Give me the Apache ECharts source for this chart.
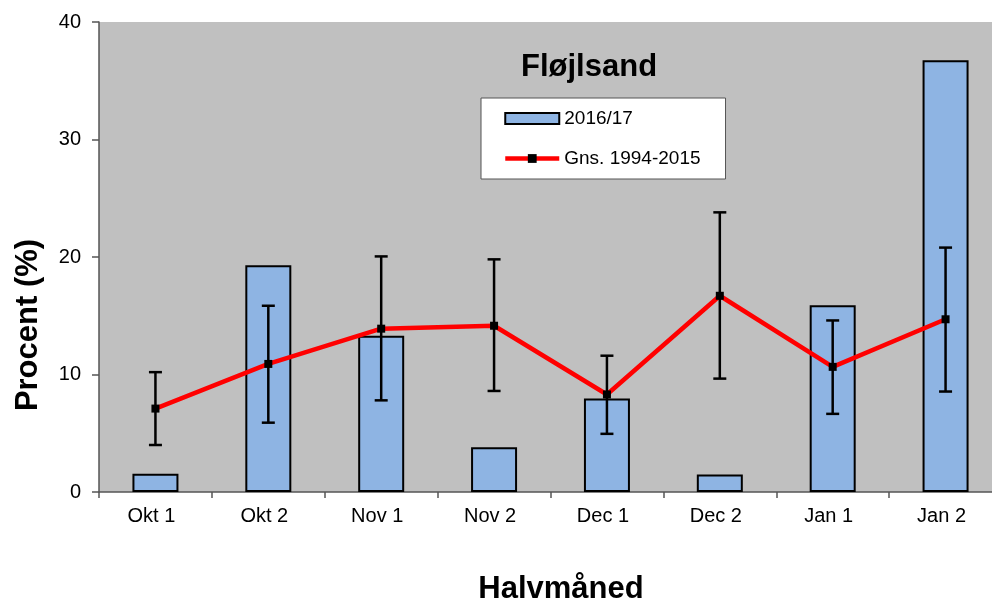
<!DOCTYPE html>
<html>
<head>
<meta charset="utf-8">
<script src="https://cdn.jsdelivr.net/npm/echarts@6/dist/echarts.min.js"></script>
<style>
  html, body { margin: 0; padding: 0; background: #fff; }
  #chart { width: 992px; height: 600px; }
</style>
</head>
<body>
<div id="chart"></div>
<script>
// halvmåneder
var categories = ['Okt 1', 'Okt 2', 'Nov 1', 'Nov 2', 'Dec 1', 'Dec 2', 'Jan 1', 'Jan 2'];
// 2016/17 procent
var season = [1.55, 19.3, 13.3, 3.8, 7.95, 1.5, 15.9, 36.75];
// gennemsnit 1994-2015
var average = [7.1, 10.9, 13.9, 14.15, 8.3, 16.7, 10.65, 14.7];
// fejllinjer (nedre / øvre)
var errLow = [4.0, 5.9, 7.8, 8.6, 4.95, 9.65, 6.65, 8.55];
var errHigh = [10.2, 15.85, 20.05, 19.8, 11.6, 23.8, 14.6, 20.8];

var FONT = 'Liberation Sans, Arial, sans-serif';

var chart = echarts.init(document.getElementById('chart'));

var errData = categories.map(function (c, i) {
    return [i, errLow[i], errHigh[i]];
});

function renderErrorBar(params, api) {
    var idx = api.value(0);
    var lo = api.coord([idx, api.value(1)]);
    var hi = api.coord([idx, api.value(2)]);
    var half = 6.5;
    var style = { stroke: '#000', lineWidth: 2.5 };
    return {
        type: 'group',
        children: [
            { type: 'line', shape: { x1: lo[0], y1: lo[1], x2: hi[0], y2: hi[1] }, style: style },
            { type: 'line', shape: { x1: hi[0] - half, y1: hi[1], x2: hi[0] + half, y2: hi[1] }, style: style },
            { type: 'line', shape: { x1: lo[0] - half, y1: lo[1], x2: lo[0] + half, y2: lo[1] }, style: style }
        ]
    };
}

var option = {
    backgroundColor: '#fff',
    animation: false,
    textStyle: { fontFamily: FONT },
    title: {
        text: 'Fløjlsand',
        left: 516,
        top: 47,
        textStyle: { fontFamily: FONT, fontSize: 31, fontWeight: 'bold', color: '#000' }
    },
    legend: {
        orient: 'vertical',
        left: 481,
        top: 98,
        padding: [11, 25, 11, 22],
        itemGap: 21,
        itemWidth: 54,
        itemHeight: 11,
        backgroundColor: '#fff',
        borderColor: '#555',
        borderWidth: 1,
        textStyle: { fontFamily: FONT, fontSize: 19, color: '#000' },
        data: [
            { name: '2016/17', icon: 'rect' },
            { name: 'Gns. 1994-2015', lineStyle: { width: 4.5, color: '#FF0000' } }
        ]
    },
    grid: {
        left: 99,
        top: 22,
        width: 903,
        bottom: 108,
        outerBoundsMode: 'none',
        containLabel: false,
        show: true,
        backgroundColor: '#C0C0C0',
        borderWidth: 0
    },
    xAxis: {
        type: 'category',
        data: categories,
        axisLine: { lineStyle: { color: '#555', width: 1.5 } },
        axisTick: { show: true, length: 6, lineStyle: { color: '#555', width: 1.5 } },
        axisLabel: { fontFamily: FONT, fontSize: 20, color: '#000', margin: 14, padding: [0, 8, 0, 0] },
        splitLine: { show: false }
    },
    yAxis: {
        type: 'value',
        min: 0,
        max: 40,
        interval: 10,
        axisLine: { show: true, lineStyle: { color: '#555', width: 1.5 } },
        axisTick: { show: true, length: 7, lineStyle: { color: '#555', width: 1.5 } },
        axisLabel: { fontFamily: FONT, fontSize: 20, color: '#000', margin: 18 },
        splitLine: { show: false }
    },
    graphic: [
        {
            type: 'text',
            x: 28,
            y: 325,
            rotation: Math.PI / 2,
            style: {
                text: 'Procent (%)',
                font: 'bold 31px ' + FONT,
                fill: '#000',
                align: 'center',
                verticalAlign: 'middle'
            }
        },
        {
            type: 'text',
            x: 561,
            y: 589,
            style: {
                text: 'Halvmåned',
                font: 'bold 31px ' + FONT,
                fill: '#000',
                align: 'center',
                verticalAlign: 'middle'
            }
        }
    ],
    series: [
        {
            name: '2016/17',
            type: 'bar',
            data: season,
            barWidth: 46,
            itemStyle: { color: '#8EB4E3', borderColor: '#000', borderWidth: 2 },
            z: 2
        },
        {
            name: 'Gns. 1994-2015',
            type: 'line',
            data: average,
            symbol: 'rect',
            symbolSize: 8,
            itemStyle: { color: '#000' },
            lineStyle: { color: '#FF0000', width: 4.5 },
            z: 3
        },
        {
            name: 'fejl',
            type: 'custom',
            data: errData,
            renderItem: renderErrorBar,
            encode: { x: 0, y: [1, 2] },
            z: 4
        }
    ]
};

chart.setOption(option);
</script>
</body>
</html>
